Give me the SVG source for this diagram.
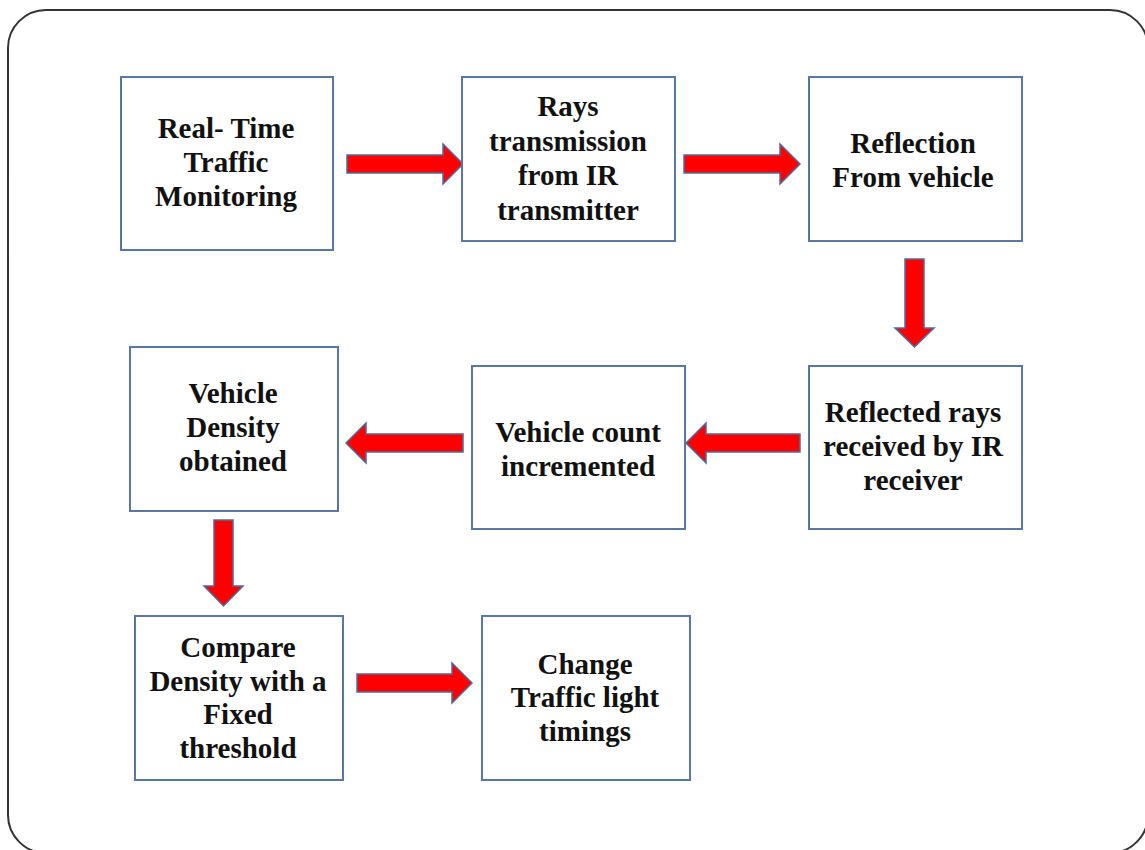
<svg xmlns="http://www.w3.org/2000/svg" width="1145" height="850" viewBox="0 0 1145 850">
<style>
.frame{fill:#fff;stroke:#333;stroke-width:2}
.box{fill:#fff;stroke:#5877a6;stroke-width:2}
.arr{fill:#ff0000;stroke:#4f6b9a;stroke-width:1.5;stroke-linejoin:miter}
.t{font-family:"Liberation Serif","Times New Roman",serif;font-weight:bold;font-size:29px;fill:#111;text-anchor:middle}
</style>
<rect width="1145" height="850" fill="#fff"/>
<rect class="frame" x="8" y="10" width="1140" height="843" rx="38" ry="38"/>
<g id="connectors">
<polygon class="arr" points="347,155 443,155 443,144 463,164 443,184 443,173 347,173"/>
<polygon class="arr" points="684,155 780,155 780,144 800,164 780,184 780,173 684,173"/>
<polygon class="arr" points="905,259 924,259 924,328 934,328 914.5,347 895,328 905,328"/>
<polygon class="arr" points="800,434 706,434 706,423 686,443 706,463 706,452 800,452"/>
<polygon class="arr" points="463,434 366,434 366,423 346,443 366,463 366,452 463,452"/>
<polygon class="arr" points="214,520 233,520 233,586 243,586 223.5,606 204,586 214,586"/>
<polygon class="arr" points="357,674 452,674 452,663 472,683 452,703 452,692 357,692"/>
</g>
<g id="n1"><rect class="box" x="121" y="77" width="212" height="173"/>
<text class="t" x="226"><tspan x="226" y="138">Real- Time</tspan><tspan x="226" y="172">Traffic</tspan><tspan x="226" y="206">Monitoring</tspan></text></g>
<g id="n2"><rect class="box" x="462" y="77" width="213" height="164"/>
<text class="t"><tspan x="568" y="116">Rays</tspan><tspan x="568" y="151">transmission</tspan><tspan x="568" y="185">from IR</tspan><tspan x="568" y="220">transmitter</tspan></text></g>
<g id="n3"><rect class="box" x="809" y="77" width="213" height="164"/>
<text class="t"><tspan x="913" y="153">Reflection</tspan><tspan x="913" y="187">From vehicle</tspan></text></g>
<g id="n4"><rect class="box" x="809" y="366" width="213" height="163"/>
<text class="t"><tspan x="913" y="422">Reflected rays</tspan><tspan x="913" y="456">received by IR</tspan><tspan x="913" y="490">receiver</tspan></text></g>
<g id="n5"><rect class="box" x="472" y="366" width="213" height="163"/>
<text class="t"><tspan x="578" y="442">Vehicle count</tspan><tspan x="578" y="476">incremented</tspan></text></g>
<g id="n6"><rect class="box" x="130" y="347" width="208" height="164"/>
<text class="t"><tspan x="233" y="403">Vehicle</tspan><tspan x="233" y="437">Density</tspan><tspan x="233" y="471">obtained</tspan></text></g>
<g id="n7"><rect class="box" x="135" y="616" width="208" height="164"/>
<text class="t"><tspan x="238" y="657">Compare</tspan><tspan x="238" y="691">Density with a</tspan><tspan x="238" y="724">Fixed</tspan><tspan x="238" y="758">threshold</tspan></text></g>
<g id="n8"><rect class="box" x="482" y="616" width="208" height="164"/>
<text class="t"><tspan x="585" y="674">Change</tspan><tspan x="585" y="707">Traffic light</tspan><tspan x="585" y="741">timings</tspan></text></g>
</svg>
